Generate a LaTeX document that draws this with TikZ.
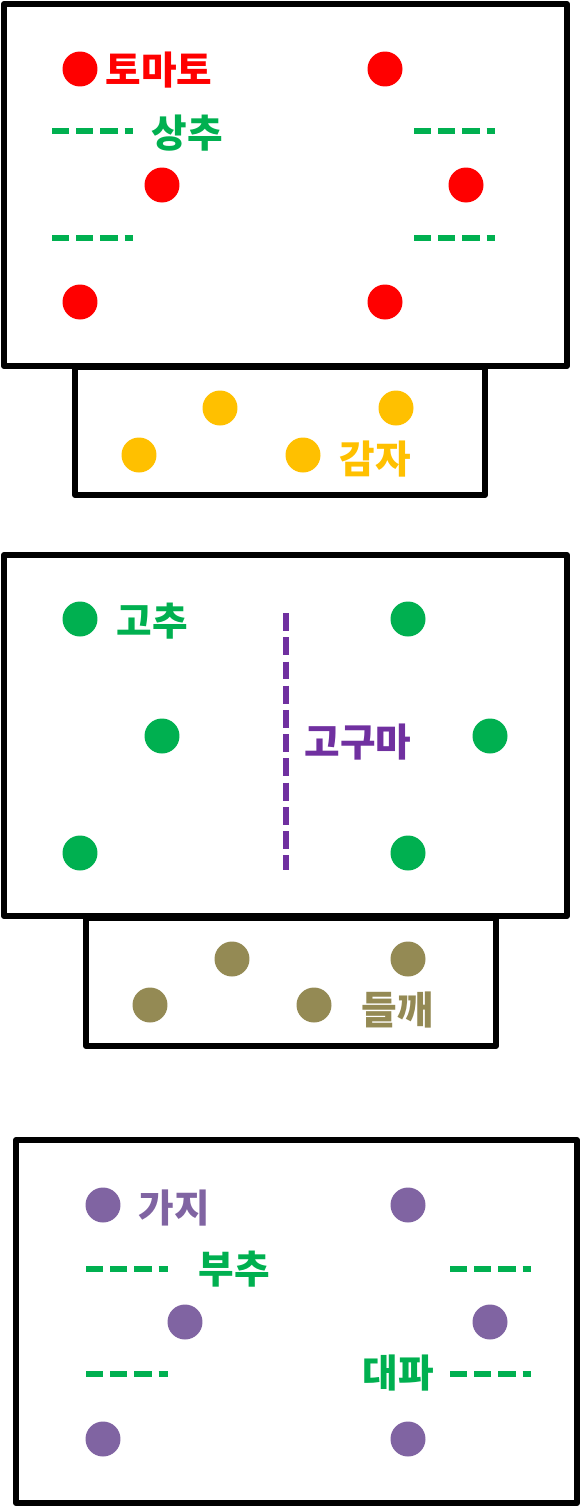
\documentclass[tikz,border=0pt]{standalone}
\usepackage{fontspec}
\usepackage{tikz}
\usetikzlibrary{positioning}
\newfontfamily\kofont{Noto Sans CJK KR}
\definecolor{cropTomato}{HTML}{FF0000}
\definecolor{cropGreen}{HTML}{00B050}
\definecolor{cropPotato}{HTML}{FFC000}
\definecolor{cropSweet}{HTML}{7030A0}
\definecolor{cropPerilla}{HTML}{948A54}
\definecolor{cropEgg}{HTML}{8064A2}
\tikzset{
  bed/.style={draw=black, line width=3.4pt, line join=round},
  plant/.style={circle, fill=#1, draw=none, minimum size=7mm, inner sep=0pt},
  croprow/.style={draw=#1, line width=2.9pt, dash pattern=on 9.8pt off 4pt},
  crop/.style={font=\kofont\bfseries\fontsize{22}{22}\selectfont, text=#1, inner sep=0pt}
}

\begin{document}
\begin{tikzpicture}[x=0.02cm, y=-0.02cm]
  \useasboundingbox (0,0) rectangle (582,1508);

  % first bed
  \draw[bed] (4,4) rectangle (567,366);
  \draw[bed] (75,367) rectangle (485,495);
  \foreach \x/\y [count=\i] in {80/69,385/69,162/185,466/185,80/302,385/302}
    \node[plant=cropTomato] (tom\i) at (\x,\y) {};
  \node[crop=cropTomato] (tomlabel) at (159,70) {토마토};
  \foreach \y [count=\i] in {131,238}{
    \draw[croprow=cropGreen] (52,\y) -- (133,\y);
    \draw[croprow=cropGreen] (414,\y) -- (495,\y);
  }
  \node[crop=cropGreen] (lettlabel) at (187,133) {상추};
  \foreach \x/\y [count=\i] in {220/408,396/408,139/455,303/455}
    \node[plant=cropPotato] (pot\i) at (\x,\y) {};
  \node[crop=cropPotato] (potlabel) at (375,459) {감자};

  % second bed
  \draw[bed] (4,555) rectangle (567,916);
  \draw[bed] (86,918) rectangle (496,1046);
  \foreach \x/\y [count=\i] in {80/619,408/619,162/736,490/736,80/853,408/853}
    \node[plant=cropGreen] (pep\i) at (\x,\y) {};
  \node[crop=cropGreen] (peplabel) at (152,621) {고추};
  \draw[croprow=cropSweet, dash pattern=on 10.2pt off 3.6pt] (286,613) -- (286,870);
  \node[crop=cropSweet] (sweetlabel) at (358,742) {고구마};
  \foreach \x/\y [count=\i] in {232/959,408/959,150/1005,314/1005}
    \node[plant=cropPerilla] (per\i) at (\x,\y) {};
  \node[crop=cropPerilla] (perlabel) at (397,1010) {들깨};

  % third bed
  \draw[bed] (16,1140) rectangle (577,1503);
  \foreach \x/\y [count=\i] in {103/1205,408/1205,185/1322,490/1322,103/1439,408/1439}
    \node[plant=cropEgg] (egg\i) at (\x,\y) {};
  \node[crop=cropEgg] (egglabel) at (174,1208) {가지};
  \foreach \y in {1269,1374}{
    \draw[croprow=cropGreen] (86,\y) -- (168,\y);
    \draw[croprow=cropGreen] (450,\y) -- (531,\y);
  }
  \node[crop=cropGreen] (chivelabel) at (234,1269) {부추};
  \node[crop=cropGreen] (leeklabel) at (398,1373) {대파};
\end{tikzpicture}
\end{document}
